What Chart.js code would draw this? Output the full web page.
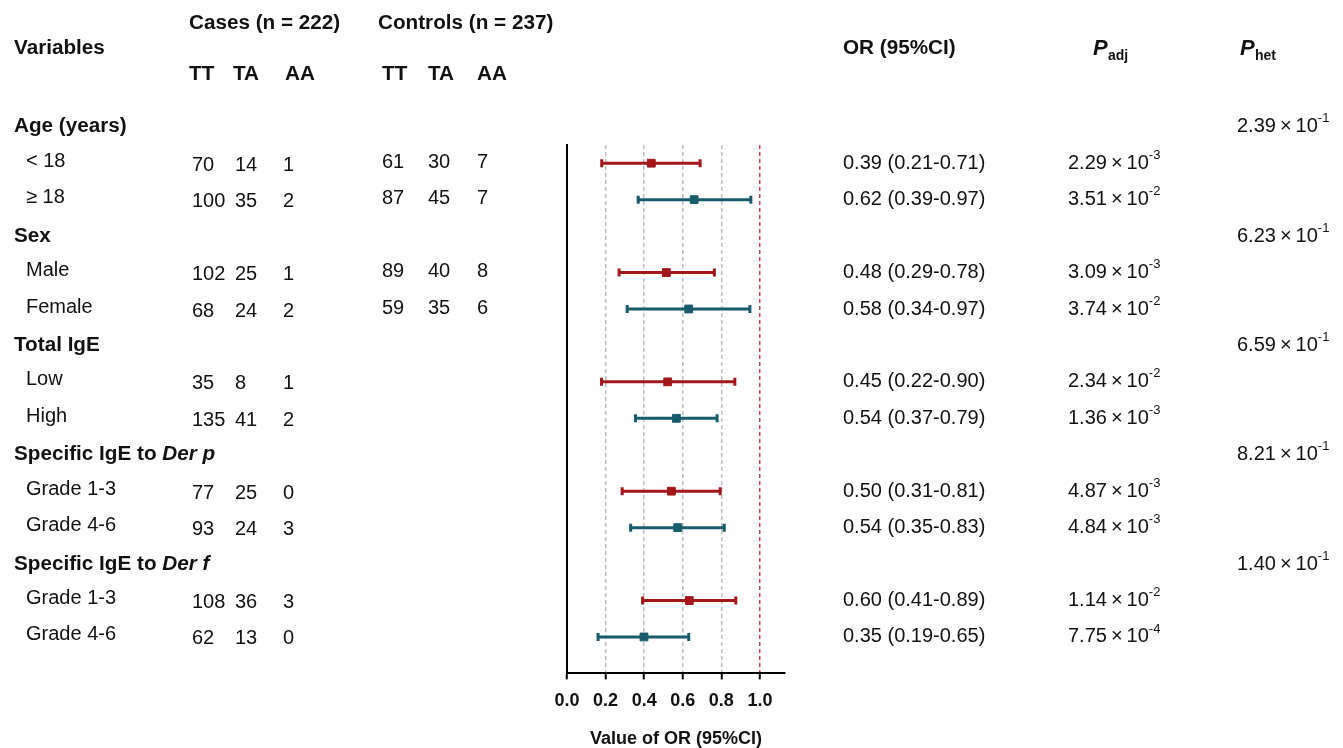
<!DOCTYPE html>
<html>
<head>
<meta charset="utf-8">
<script src="https://cdn.jsdelivr.net/npm/chart.js@4.4.1/dist/chart.umd.min.js"></script>
<style>
  html, body { margin: 0; padding: 0; background: #fff; }
  #wrap { position: relative; width: 1343px; height: 748px; }
</style>
</head>
<body>
<div id="wrap"><canvas id="forest"></canvas></div>
<script>
// groups and subgroups, top to bottom
const groupNames   = ['Age (years)', 'Sex', 'Total IgE', 'Specific IgE to ', 'Specific IgE to ']
const groupItalic  = ['', '', '', 'Der p', 'Der f']
const subgroupNames = ['< 18', '≥ 18', 'Male', 'Female', 'Low', 'High', 'Grade 1-3', 'Grade 4-6', 'Grade 1-3', 'Grade 4-6']

// genotype counts
const casesTT    = [70, 100, 102, 68, 35, 135, 77, 93, 108, 62]
const casesTA    = [14, 35, 25, 24, 8, 41, 25, 24, 36, 13]
const casesAA    = [1, 2, 1, 2, 1, 2, 0, 3, 3, 0]
const controlsTT = [61, 87, 89, 59]
const controlsTA = [30, 45, 40, 35]
const controlsAA = [7, 7, 8, 6]

// printed columns
const orText  = ['0.39 (0.21-0.71)', '0.62 (0.39-0.97)', '0.48 (0.29-0.78)', '0.58 (0.34-0.97)', '0.45 (0.22-0.90)',
                 '0.54 (0.37-0.79)', '0.50 (0.31-0.81)', '0.54 (0.35-0.83)', '0.60 (0.41-0.89)', '0.35 (0.19-0.65)']
const pAdjMant = ['2.29', '3.51', '3.09', '3.74', '2.34', '1.36', '4.87', '4.84', '1.14', '7.75']
const pAdjExp  = ['-3', '-2', '-3', '-2', '-2', '-3', '-3', '-3', '-2', '-4']
const pHetMant = ['2.39', '6.23', '6.59', '8.21', '1.40']
const pHetExp  = ['-1', '-1', '-1', '-1', '-1']

// plotted OR and CI (as drawn in the figure)
const orPoint = [0.437, 0.659, 0.515, 0.631, 0.522, 0.567, 0.541, 0.574, 0.634, 0.399]
const orLower = [0.180, 0.369, 0.270, 0.312, 0.179, 0.355, 0.286, 0.330, 0.392, 0.161]
const orUpper = [0.690, 0.953, 0.764, 0.948, 0.870, 0.778, 0.794, 0.815, 0.875, 0.631]

const xTicks = [0, 0.2, 0.4, 0.6, 0.8, 1.0]

const RED  = '#a3161a'
const TEAL = '#185b6c'
const FONT = '"Liberation Sans", Arial, sans-serif'
const BOLD = 'bold 20.7px ' + FONT

const groupSlot = g => g * 3
const subSlot   = i => Math.floor(i / 2) * 3 + 1 + (i % 2)

const datasets = orPoint.map((p, i) => ({
  type: 'line',
  data: [{ x: orLower[i], y: subSlot(i) }, { x: p, y: subSlot(i) }, { x: orUpper[i], y: subSlot(i) }],
  borderColor: i % 2 === 0 ? RED : TEAL,
  backgroundColor: i % 2 === 0 ? RED : TEAL,
  borderWidth: 3,
  pointStyle: ['line', 'rect', 'line'],
  pointRotation: [90, 0, 90],
  pointRadius: [4, 5.5, 4],
  pointBorderWidth: [3, 1, 3],
  tension: 0
}))

function sci(ctx, x, y, mant, exp) {
  ctx.font = '20px ' + FONT
  const s = mant + '\u2009×\u200910'
  ctx.fillText(s, x, y)
  const w = ctx.measureText(s).width
  ctx.font = '13px ' + FONT
  ctx.fillText(exp, x + w, y - 8)
}

const tablePlugin = {
  id: 'table',
  afterDraw(chart) {
    const ctx = chart.ctx
    const ys = chart.scales.y
    ctx.save()
    ctx.fillStyle = '#111'
    ctx.textBaseline = 'middle'
    ctx.textAlign = 'left'

    // column heads
    ctx.font = BOLD
    ctx.fillText('Variables', 14, 48)
    ctx.fillText('Cases (n = 222)', 189, 23)
    ctx.fillText('Controls (n = 237)', 378, 23)
    ctx.fillText('TT', 189, 74); ctx.fillText('TA', 233, 74); ctx.fillText('AA', 285, 74)
    ctx.fillText('TT', 382, 74); ctx.fillText('TA', 428, 74); ctx.fillText('AA', 477, 74)
    ctx.fillText('OR (95%CI)', 843, 48)
    ctx.font = 'italic bold 22px ' + FONT
    ctx.fillText('P', 1093, 49)
    ctx.fillText('P', 1240, 49)
    ctx.font = 'bold 14px ' + FONT
    ctx.fillText('adj', 1108, 56)
    ctx.fillText('het', 1255, 56)

    // group rows
    groupNames.forEach((g, k) => {
      const y = ys.getPixelForValue(groupSlot(k))
      ctx.font = BOLD
      ctx.fillText(g, 14, y)
      if (groupItalic[k]) {
        const w = ctx.measureText(g).width
        ctx.font = 'italic ' + BOLD
        ctx.fillText(groupItalic[k], 14 + w, y)
      }
      sci(ctx, 1237, y, pHetMant[k], pHetExp[k])
    })

    // subgroup rows
    subgroupNames.forEach((s, i) => {
      const y = ys.getPixelForValue(subSlot(i))
      ctx.font = '20px ' + FONT
      ctx.fillText(s, 26, y - 2)
      ctx.fillText(String(casesTT[i]), 192, y + 2)
      ctx.fillText(String(casesTA[i]), 235, y + 2)
      ctx.fillText(String(casesAA[i]), 283, y + 2)
      if (i < controlsTT.length) {
        ctx.fillText(String(controlsTT[i]), 382, y - 1)
        ctx.fillText(String(controlsTA[i]), 428, y - 1)
        ctx.fillText(String(controlsAA[i]), 477, y - 1)
      }
      ctx.fillText(orText[i], 843, y)
      sci(ctx, 1068, y, pAdjMant[i], pAdjExp[i])
    })
    ctx.restore()
  }
}

new Chart(document.getElementById('forest'), {
  type: 'line',
  data: { datasets },
  options: {
    responsive: true,
    maintainAspectRatio: false,
    animation: false,
    layout: { padding: { left: 567, right: 558, top: 145, bottom: 0 } },
    plugins: { legend: { display: false }, tooltip: { enabled: false } },
    scales: {
      x: {
        type: 'linear',
        min: 0,
        max: 1.13,
        afterBuildTicks: s => { s.ticks = xTicks.map(v => ({ value: v })) },
        border: { display: true, color: '#000', width: 2, dash: [4, 3] },
        grid: {
          color: c => c.tick.value === 0 ? 'rgba(0,0,0,0)' : (c.tick.value === 1 ? '#c44a4a' : '#bdbdbd'),
          lineWidth: 1.5,
          drawTicks: true,
          tickLength: 6,
          tickColor: '#000',
          tickWidth: 2,
          tickBorderDash: []
        },
        ticks: {
          color: '#111',
          padding: 11,
          font: { size: 18, weight: 'bold', family: FONT },
          callback: v => v.toFixed(1)
        },
        title: {
          display: true,
          text: 'Value of OR (95%CI)',
          color: '#111',
          font: { size: 18, weight: 'bold', family: FONT, lineHeight: 1 },
          padding: { top: 7, bottom: 0 }
        }
      },
      y: {
        type: 'linear',
        reverse: true,
        min: 0.5,
        max: 15,
        border: { display: true, color: '#000', width: 2 },
        grid: { display: false, drawTicks: false },
        ticks: { display: false }
      }
    }
  },
  plugins: [tablePlugin]
})
</script>
</body>
</html>
